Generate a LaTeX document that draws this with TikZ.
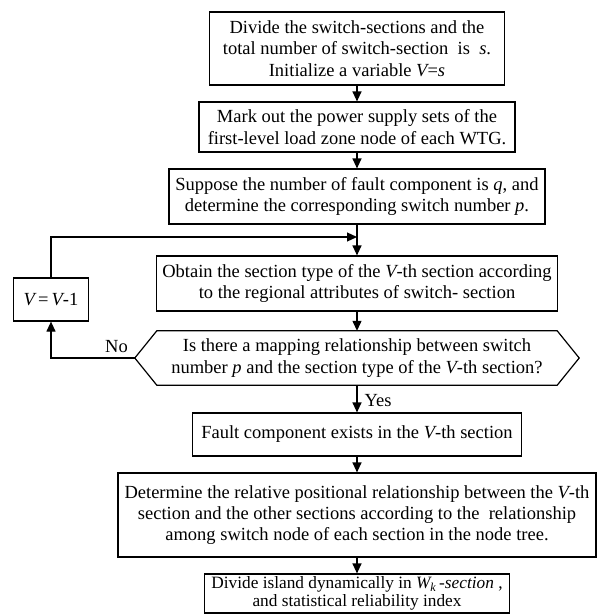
\documentclass[tikz,border=0pt]{standalone}
\usepackage{fontspec}
\setmainfont{Liberation Serif}
\usetikzlibrary{arrows.meta,calc}

% italic variable without italic correction, so "-th" sits tight
\newcommand{\vr}[1]{{\itshape #1}}

\begin{document}
\begin{tikzpicture}[x=1pt,y=-1pt,
  every node/.style={font=\fontsize{18.5}{21.3}\selectfont, align=center, inner sep=0pt},
  procbox/.style={draw, line width=1.2pt},
  flow/.style={line width=1.2pt, -{Triangle[length=10pt,width=9pt]}}]
\useasboundingbox (0,0) rectangle (598,614);

% process boxes down the main column
\node[procbox, minimum width=295pt, minimum height=73pt] (b1) at (357,48.5)
  {Divide the switch-sections and the\\ total number of switch-section \ is \ \vr{s}.\\ Initialize a variable \vr{V}=\vr{s}};
\node[procbox, minimum width=316pt, minimum height=50pt] (b2) at (357,127)
  {Mark out the power supply sets of the\\ first-level load zone node of each WTG.};
\node[procbox, minimum width=376pt, minimum height=55pt] (b3) at (357,196.5)
  {Suppose the number of fault component is \vr{q}, and\\ determine the corresponding switch number \vr{p}.};
\node[procbox, minimum width=401pt, minimum height=55pt] (b4) at (357,283.5)
  {Obtain the section type of the \vr{V}-th section according\\ to the regional attributes of switch- section};

% decision: hexagon drawn around a plain node
\node[minimum width=400pt, minimum height=54pt] (hex) at (357,358)
  {Is there a mapping relationship between switch\\ number \vr{p} and the section type of the \vr{V}-th section?};
\coordinate (hexW) at ($(hex.west)+(-22,0)$);
\coordinate (hexE) at ($(hex.east)+(22,0)$);
\draw[line width=1.2pt] (hex.north west) -- (hex.north east) -- (hexE) -- (hex.south east)
  -- (hex.south west) -- (hexW) -- cycle;

\node[procbox, minimum width=329pt, minimum height=43pt] (b5) at (357,434.5)
  {Fault component exists in the \vr{V}-th section};
\node[procbox, minimum width=478pt, minimum height=84pt] (b6) at (357,515)
  {Determine the relative positional relationship between the \vr{V}-th\\ section and the other sections according to the \ relationship\\ among switch node of each section in the node tree.};
\node[procbox, minimum width=305pt, minimum height=39pt, font=\fontsize{17.3}{18.3}\selectfont] (b7) at (357,593.5)
  {Divide island dynamically in \vr{W}\textsubscript{\vr{k}}\,\vr{-section} ,\\ and statistical reliability index};

% counter update on the loop
\node[procbox, minimum width=75pt, minimum height=43pt] (vbox) at (51,299.5)
  {\vr{V}\,=\,\vr{V}-1};

% connectors
\coordinate (j) at (357,237);
\draw[flow] (b1) -- (b2);
\draw[flow] (b2) -- (b3);
\draw[flow] (b3) -- (b4);
\draw[flow] (vbox.north) |- (j);
\draw[flow] (b4) -- (hex.north);
\draw[flow] (hexW) -| (vbox.south);
\draw[flow] (hex.south) -- (b5);
\draw[flow] (b5) -- (b6);
\draw[flow] (b6) -- (b7);

\node (no) at (116.5,347) {No};
\node (yes) at (378,401) {Yes};
\end{tikzpicture}
\end{document}
